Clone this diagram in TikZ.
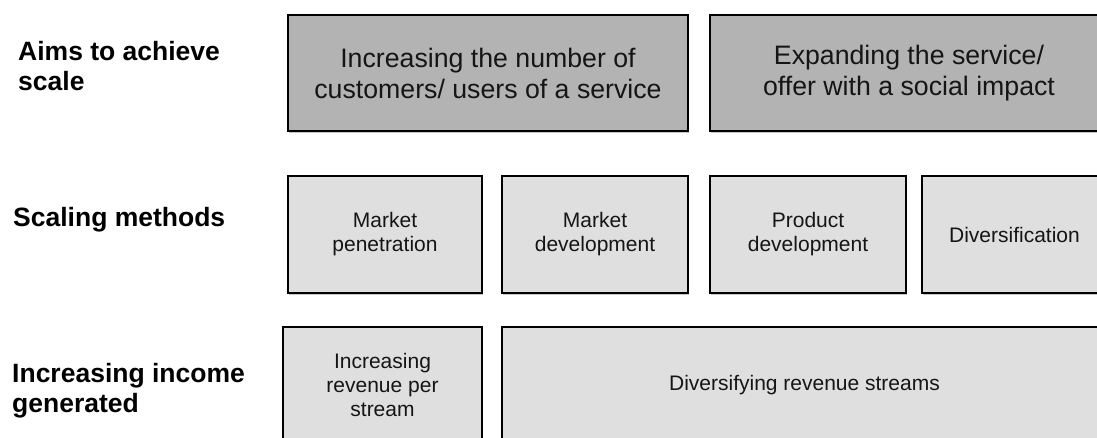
\documentclass[tikz,border=0pt]{standalone}
\usepackage{fontspec}
\setmainfont{Liberation Sans}
\usepackage{xcolor}
\usepackage{tikz}
\usetikzlibrary{shadows}
\definecolor{aimfill}{HTML}{B3B3B3}
\definecolor{boxfill}{HTML}{DFDFDF}
\definecolor{ink}{HTML}{151515}
\tikzset{
  rowlab/.style={anchor=west, align=left, inner sep=0pt, text=black,
    font=\fontsize{26.5}{30}\selectfont\bfseries},
  card/.style={draw=black, line width=1.4pt, inner sep=0pt, align=center, text=ink,
    drop shadow={shadow xshift=1.2pt, shadow yshift=-2pt, fill=black, opacity=0.22}},
  aimbox/.style={card, fill=aimfill, minimum height=116pt,
    font=\fontsize{26.7}{31}\selectfont},
  methbox/.style={card, fill=boxfill, minimum height=117pt,
    font=\fontsize{21}{24}\selectfont},
  incbox/.style={card, fill=boxfill, minimum height=116pt,
    font=\fontsize{21}{24}\selectfont}
}

\begin{document}
\begin{tikzpicture}[x=1pt, y=-1pt]
  % page = 1097 x 437 (1 unit = 1 px of the reference)
  \clip (0,0) rectangle (1097,437);
  \fill[white] (0,0) rectangle (1097,437);

  % row labels
  \node[rowlab] (labaims) at (18,66) {Aims to achieve\\scale};
  \node[rowlab] (labmeth) at (13,219.5) {Scaling methods};
  \node[rowlab] (labinc) at (12,391) {Increasing income\\generated};

  % aims to achieve scale
  \node[aimbox, minimum width=400pt] (aimusers) at (488,73)
    {Increasing the number of\\customers/ users of a service};
  \node[aimbox, minimum width=398pt] (aimoffer) at (909,73)
    {Expanding the service/\\offer with a social impact};

  % scaling methods
  \node[methbox, minimum width=194pt] (mpen) at (385,234.5) {Market\\penetration};
  \node[methbox, minimum width=186pt] (mdev) at (595,234.5) {Market\\development};
  \node[methbox, minimum width=196pt] (pdev) at (808,234.5) {Product\\development};
  \node[methbox, minimum width=185pt] (divers) at (1014.5,234.5) {Diversification};

  % income generated
  \node[incbox, minimum width=199pt] (revper) at (382.5,385) {Increasing\\revenue per\\stream};
  \node[incbox, minimum width=605pt] (revdiv) at (804.5,385) {Diversifying revenue streams};
\end{tikzpicture}
\end{document}
